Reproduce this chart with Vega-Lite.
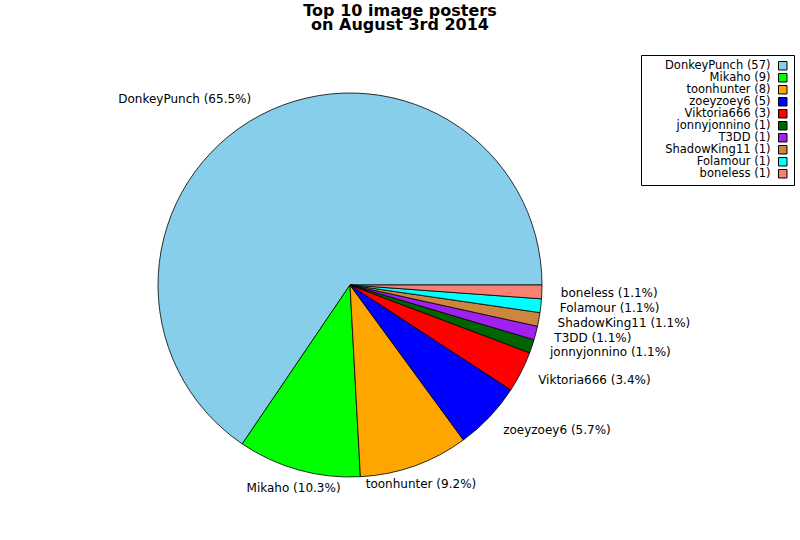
{
  "$schema": "https://vega.github.io/schema/vega-lite/v6.json",
  "autosize": "none",
  "width": 700,
  "height": 510,
  "padding": {"left": 0, "top": 30, "right": 100, "bottom": 0},
  "background": "white",
  "title": {
    "text": ["Top 10 image posters", "on August 3rd 2014"],
    "font": "DejaVu Sans",
    "fontSize": 16,
    "fontWeight": "bold",
    "lineHeight": 14,
    "anchor": "middle",
    "dx": 50,
    "offset": -3,
    "color": "black"
  },
  "data": {
    "values": [
      {"rank": 1, "name": "DonkeyPunch", "count": 57, "legend": "DonkeyPunch (57)", "label": "DonkeyPunch (65.5%)"},
      {"rank": 2, "name": "Mikaho", "count": 9, "legend": "Mikaho (9)", "label": "Mikaho (10.3%)"},
      {"rank": 3, "name": "toonhunter", "count": 8, "legend": "toonhunter (8)", "label": "toonhunter (9.2%)"},
      {"rank": 4, "name": "zoeyzoey6", "count": 5, "legend": "zoeyzoey6 (5)", "label": "zoeyzoey6 (5.7%)"},
      {"rank": 5, "name": "Viktoria666", "count": 3, "legend": "Viktoria666 (3)", "label": "Viktoria666 (3.4%)"},
      {"rank": 6, "name": "jonnyjonnino", "count": 1, "legend": "jonnyjonnino (1)", "label": "jonnyjonnino (1.1%)"},
      {"rank": 7, "name": "T3DD", "count": 1, "legend": "T3DD (1)", "label": "T3DD (1.1%)"},
      {"rank": 8, "name": "ShadowKing11", "count": 1, "legend": "ShadowKing11 (1)", "label": "ShadowKing11 (1.1%)"},
      {"rank": 9, "name": "Folamour", "count": 1, "legend": "Folamour (1)", "label": "Folamour (1.1%)"},
      {"rank": 10, "name": "boneless", "count": 1, "legend": "boneless (1)", "label": "boneless (1.1%)"}
    ]
  },
  "encoding": {
    "theta": {
      "field": "count",
      "type": "quantitative",
      "stack": true,
      "scale": {"range": [1.5708, -4.7124]}
    },
    "order": {"field": "rank", "type": "quantitative"}
  },
  "layer": [
    {
      "mark": {"type": "arc", "outerRadius": 192, "stroke": "black", "strokeWidth": 0.8},
      "encoding": {
        "color": {
          "field": "legend",
          "type": "nominal",
          "scale": {
            "domain": ["DonkeyPunch (57)", "Mikaho (9)", "toonhunter (8)", "zoeyzoey6 (5)", "Viktoria666 (3)", "jonnyjonnino (1)", "T3DD (1)", "ShadowKing11 (1)", "Folamour (1)", "boneless (1)"],
            "range": ["#87CEEB", "#00FF00", "#FFA500", "#0000FF", "#FF0000", "#006400", "#A020F0", "#CD853F", "#00FFFF", "#FA8072"]
          },
          "legend": {
            "title": null,
            "orient": "none",
            "legendX": 641,
            "legendY": 25,
            "strokeColor": "black",
            "fillColor": "white",
            "padding": 5,
            "cornerRadius": 0,
            "symbolType": "square",
            "symbolSize": 72,
            "symbolStrokeColor": "black",
            "symbolStrokeWidth": 1,
            "symbolOpacity": 1,
            "symbolOffset": 131,
            "labelFont": "DejaVu Sans",
            "labelFontSize": 11.5,
            "labelColor": "black",
            "labelAlign": "right",
            "labelOffset": -18,
            "labelLimit": 200,
            "rowPadding": -4
          }
        }
      }
    },
    {
      "mark": {"type": "text", "radius": 211, "font": "DejaVu Sans", "fontSize": 12, "baseline": "middle", "align": "right", "color": "black"},
      "encoding": {
        "text": {
          "condition": {"test": "(datum.count_start + datum.count_end) / 174 > 0.25 && (datum.count_start + datum.count_end) / 174 < 0.68", "field": "label"},
          "value": ""
        }
      }
    },
    {
      "mark": {"type": "text", "radius": 211, "font": "DejaVu Sans", "fontSize": 12, "baseline": "middle", "align": "center", "color": "black"},
      "encoding": {
        "text": {
          "condition": {"test": "(datum.count_start + datum.count_end) / 174 >= 0.68 && (datum.count_start + datum.count_end) / 174 <= 0.83", "field": "label"},
          "value": ""
        }
      }
    },
    {
      "mark": {"type": "text", "radius": 211, "font": "DejaVu Sans", "fontSize": 12, "baseline": "middle", "align": "left", "color": "black"},
      "encoding": {
        "text": {
          "condition": {"test": "(datum.count_start + datum.count_end) / 174 <= 0.25 || (datum.count_start + datum.count_end) / 174 > 0.83", "field": "label"},
          "value": ""
        }
      }
    }
  ]
}
